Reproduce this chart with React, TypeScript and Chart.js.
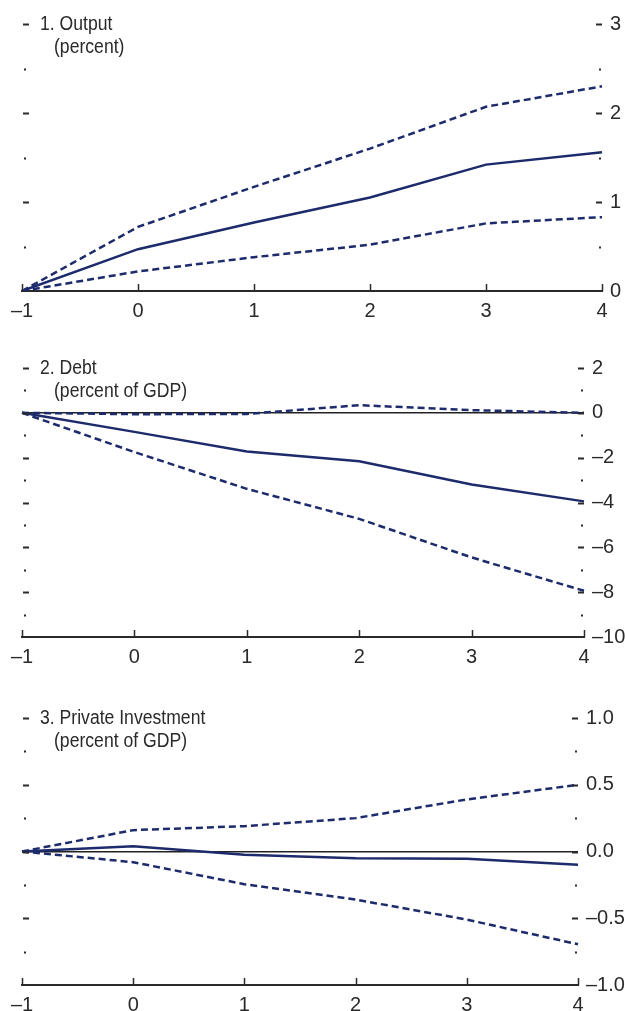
import React, { useEffect, useRef } from 'react';
import { Chart, registerables } from 'chart.js';

Chart.register(...registerables);

// horizon (years), shared by the three panels
const periods = [-1, 0, 1, 2, 3, 4];

// 1. Output (percent)
const outputMid = [0, 0.47, 0.77, 1.05, 1.42, 1.56];
const outputHigh = [0, 0.72, 1.17, 1.6, 2.07, 2.3];
const outputLow = [0, 0.22, 0.38, 0.52, 0.76, 0.83];

// 2. Debt (percent of GDP)
const debtMid = [0, -0.85, -1.72, -2.16, -3.2, -3.95];
const debtHigh = [0, -0.06, -0.05, 0.34, 0.12, 0.0];
const debtLow = [0, -1.75, -3.39, -4.73, -6.45, -7.94];

// 3. Private investment (percent of GDP)
const investMid = [0, 0.04, -0.025, -0.05, -0.055, -0.1];
const investHigh = [0, 0.16, 0.19, 0.25, 0.39, 0.5];
const investLow = [0, -0.08, -0.245, -0.36, -0.51, -0.695];

const FONT = "'Liberation Sans Narrow', 'Liberation Sans', Arial, sans-serif";
const LINE = '#1d2b6c';
const INK = '#2a2a2a';

const dash = (v: number, digits: number) => {
   const s = Math.abs(v).toFixed(digits);
   return v < -1e-9 ? '\u2013' + s : s;
};

interface PanelProps {
   top: number;
   height: number;
   axisWidth: number;
   title: string;
   unit: string;
   mid: number[];
   high: number[];
   low: number[];
   min: number;
   max: number;
   minor: number;
   major: number;
   digits: number;
}

const isMajor = (v: number, major: number) => Math.abs(v / major - Math.round(v / major)) < 1e-6;

const Panel = (p: PanelProps) => {
   const canvasRef = useRef<HTMLCanvasElement | null>(null);

   useEffect(() => {
      if (!canvasRef.current) return;

      // inward tick marks on both sides and on the x axis
      const marks = {
         id: 'marks',
         afterDraw(chart: Chart) {
            const { ctx, chartArea: a } = chart;
            const y = chart.scales.y;
            const x = chart.scales.x;
            ctx.save();
            ctx.strokeStyle = INK;
            ctx.lineWidth = 2;
            y.ticks.forEach((t) => {
               if (Math.abs(t.value - p.min) < 1e-9) return;
               const py = Math.round(y.getPixelForValue(t.value)) + 0.5;
               const big = isMajor(t.value, p.major);
               const len = big ? 6 : 2;
               ctx.beginPath();
               ctx.moveTo(a.left + (big ? 1 : 2), py);
               ctx.lineTo(a.left + (big ? 1 : 2) + len, py);
               ctx.moveTo(a.right - (big ? 0 : 1) - len, py);
               ctx.lineTo(a.right - (big ? 0 : 1), py);
               ctx.stroke();
            });
            ctx.lineWidth = 1.5;
            x.ticks.forEach((_t, i) => {
               const px = Math.round(x.getPixelForTick(i)) + 0.5;
               ctx.beginPath();
               ctx.moveTo(px, a.bottom);
               ctx.lineTo(px, a.bottom - 7);
               ctx.stroke();
            });
            ctx.restore();
         },
      };

      const chart = new Chart(canvasRef.current, {
         type: 'line',
         data: {
            labels: periods.map((v) => dash(v, 0)),
            datasets: [
               { data: p.high, borderColor: LINE, borderWidth: 2.5, borderDash: [7, 4], pointRadius: 0, tension: 0 },
               { data: p.mid, borderColor: LINE, borderWidth: 2.5, pointRadius: 0, tension: 0 },
               { data: p.low, borderColor: LINE, borderWidth: 2.5, borderDash: [7, 4], pointRadius: 0, tension: 0 },
            ],
         },
         options: {
            animation: false,
            responsive: false,
            layout: { padding: { top: 24, left: 22, right: 0, bottom: 0 } },
            plugins: { legend: { display: false }, tooltip: { enabled: false } },
            scales: {
               x: {
                  type: 'category',
                  offset: false,
                  grid: { display: false, drawTicks: false },
                  border: { display: true, color: INK, width: 2 },
                  ticks: { padding: 8, color: INK, font: { family: FONT, size: 20 }, maxRotation: 0 },
               },
               y: {
                  type: 'linear',
                  position: 'right',
                  min: p.min,
                  max: p.max,
                  afterFit: (s: any) => {
                     s.width = p.axisWidth;
                  },
                  grid: {
                     drawTicks: false,
                     lineWidth: 1.5,
                     color: (c: any) =>
                        c.tick && Math.abs(c.tick.value) < 1e-9 && p.min < 0 ? '#222' : 'rgba(0,0,0,0)',
                  },
                  border: { display: false },
                  ticks: {
                     stepSize: p.minor,
                     autoSkip: false,
                     padding: 8,
                     color: INK,
                     font: { family: FONT, size: 20 },
                     callback: (v: any) => (isMajor(Number(v), p.major) ? dash(Number(v), p.digits) : ''),
                  },
               },
            },
         },
         plugins: [marks],
      });

      return () => {
         chart.destroy();
      };
   }, []);

   const text: React.CSSProperties = {
      position: 'absolute',
      fontFamily: FONT,
      fontSize: 20,
      lineHeight: '20px',
      color: INK,
      whiteSpace: 'nowrap',
      transform: 'scaleX(0.88)',
      transformOrigin: 'left center',
   };

   return (
      <div style={{ position: 'absolute', left: 0, top: p.top, width: 625, height: p.height }}>
         <canvas ref={canvasRef} width={625} height={p.height} style={{ display: 'block' }} />
         <div style={{ ...text, left: 40, top: 13 }}>{p.title}</div>
         <div style={{ ...text, left: 54, top: 36 }}>{p.unit}</div>
      </div>
   );
};

const App = () => (
   <div
      style={{
         position: 'absolute',
         left: 0,
         top: 0,
         width: 625,
         height: 1011,
         overflow: 'hidden',
         background: '#fff',
      }}
   >
      <Panel top={0} height={331} axisWidth={23} title='1. Output' unit='(percent)'
         mid={outputMid} high={outputHigh} low={outputLow}
         min={0} max={3} minor={0.5} major={1} digits={0} />
      <Panel top={344} height={333} axisWidth={41} title='2. Debt' unit='(percent of GDP)'
         mid={debtMid} high={debtHigh} low={debtLow}
         min={-10} max={2} minor={1} major={2} digits={0} />
      <Panel top={694} height={331} axisWidth={47} title='3. Private Investment' unit='(percent of GDP)'
         mid={investMid} high={investHigh} low={investLow}
         min={-1} max={1} minor={0.25} major={0.5} digits={1} />
   </div>
);

export default App;
